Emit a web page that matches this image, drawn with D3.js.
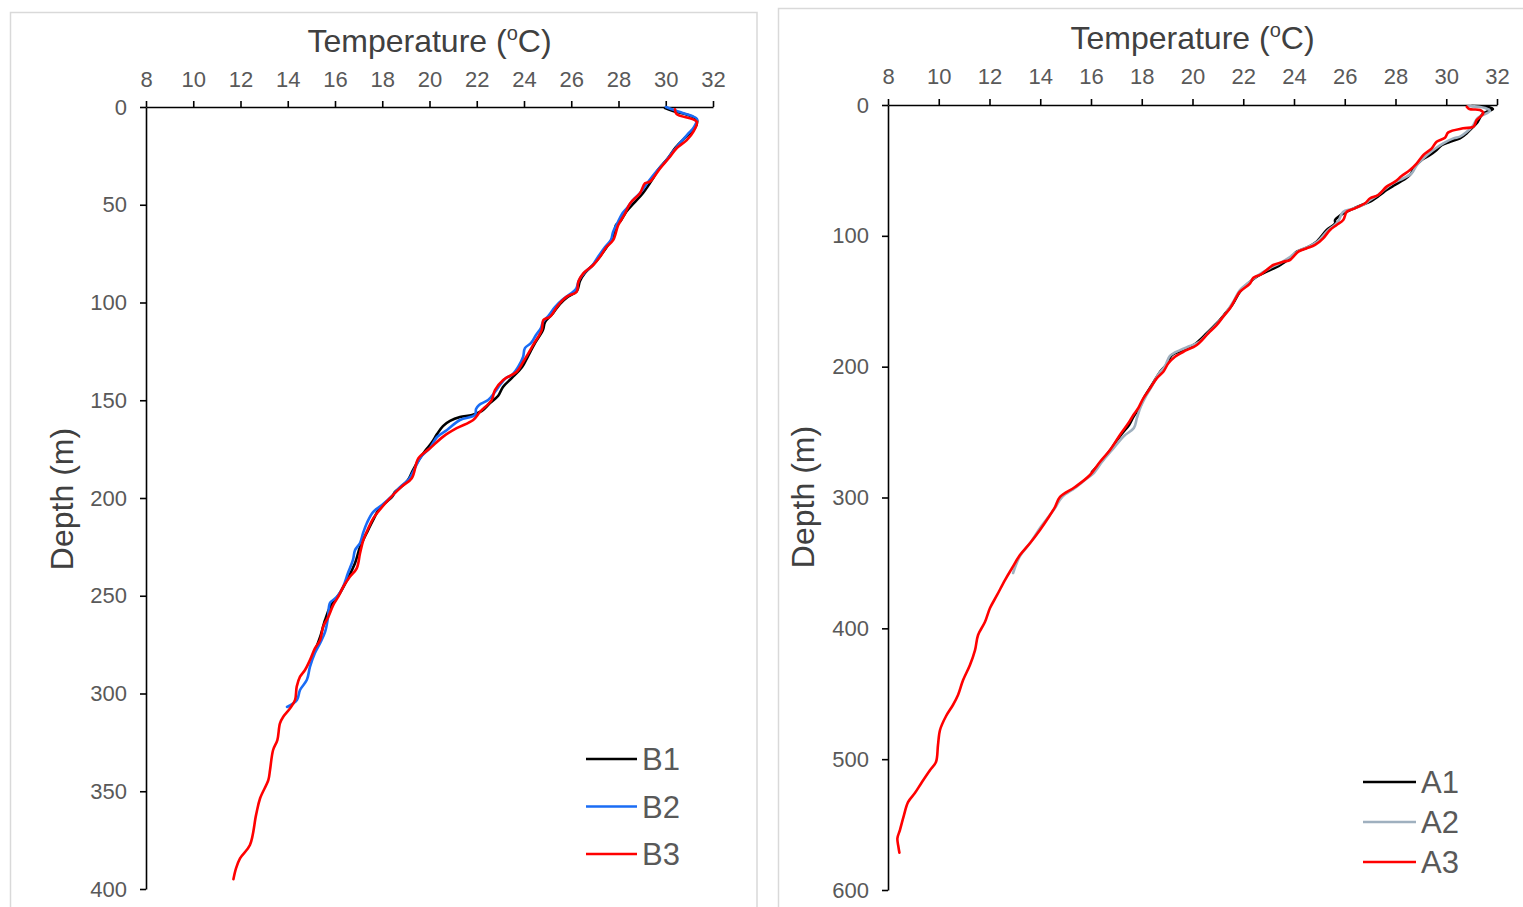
<!DOCTYPE html>
<html><head><meta charset="utf-8">
<script src="https://cdn.jsdelivr.net/npm/d3@7/dist/d3.min.js"></script>
<style>
body{margin:0;background:#fff;}
svg{display:block;font-family:"Liberation Sans",Arial,sans-serif;}
</style>
</head><body>
<svg id="c" width="1523" height="907"></svg>
<script>
// ---------- data ----------
const tempTicks = [8,10,12,14,16,18,20,22,24,26,28,30,32];
const depthTicksB = [0,50,100,150,200,250,300,350,400];
const depthTicksA = [0,100,200,300,400,500,600];
const seriesNamesB = ["B1","B2","B3"];
const seriesNamesA = ["A1","A2","A3"];

// [temperature °C, depth m]
const B1 = [[29.97,0.5],[30.31,2.0],[30.94,4.1],[31.32,6.6],[31.24,10.7],[30.86,15.3],[30.43,20.5],[30.10,26.1],[29.67,32.2],[29.42,37.3],[29.04,44.0],[28.66,49.1],[28.32,53.7],[28.06,58.8],[27.89,60.4],[27.81,65.5],[27.56,70.6],[27.26,75.7],[26.96,80.3],[26.58,84.9],[26.37,89.0],[26.24,94.1],[25.86,97.1],[25.52,100.8],[25.23,105.4],[24.89,110.0],[24.80,114.1],[24.47,120.7],[24.13,128.4],[23.92,133.0],[23.49,138.6],[23.11,143.2],[22.90,147.8],[22.56,151.4],[22.22,155.4],[21.80,157.5],[21.29,158.6],[20.87,160.6],[20.57,163.2],[20.32,167.3],[20.11,171.4],[19.85,175.4],[19.60,179.5],[19.30,185.7],[19.09,190.8],[18.79,194.4],[18.54,196.9],[18.41,199.5],[17.90,205.1],[17.61,211.3],[17.40,216.4],[17.06,225.1],[16.85,233.2],[16.51,241.9],[16.21,248.6],[15.79,255.8],[15.58,262.4],[15.37,271.1],[15.20,276.7]];
const B2 = [[30.01,0.0],[30.60,2.6],[31.11,4.6],[31.32,6.1],[31.20,10.2],[30.94,13.8],[30.60,18.4],[30.26,23.5],[29.93,28.6],[29.59,33.2],[29.25,38.4],[28.91,44.0],[28.61,47.6],[28.36,51.7],[28.15,54.7],[27.98,58.8],[27.77,63.9],[27.68,68.0],[27.43,71.6],[27.13,76.7],[26.88,81.3],[26.58,84.4],[26.33,88.5],[26.20,93.1],[25.95,95.7],[25.61,98.7],[25.31,102.3],[25.06,106.4],[24.80,110.0],[24.72,113.0],[24.51,116.6],[24.30,120.7],[24.04,123.3],[23.96,127.9],[23.75,133.0],[23.49,137.1],[23.24,138.6],[22.98,142.2],[22.77,145.8],[22.48,149.9],[22.10,152.4],[21.97,154.5],[21.93,157.5],[21.29,160.1],[20.74,165.2],[20.32,168.8],[20.02,174.4],[19.64,179.0],[19.34,185.7],[19.13,190.3],[18.75,194.4],[18.37,199.5],[17.99,203.6],[17.61,207.2],[17.35,212.8],[17.19,217.9],[17.06,223.0],[16.85,226.6],[16.76,231.7],[16.55,238.4],[16.34,245.5],[16.08,250.6],[15.79,253.7],[15.70,261.4],[15.58,268.5],[15.37,274.2],[15.15,279.3],[14.94,286.4],[14.81,293.0],[14.52,298.2],[14.39,303.3],[13.97,306.9]];
const B3 = [[30.39,1.2],[30.46,3.6],[31.31,7.5],[31.17,12.6],[30.89,16.9],[30.46,21.1],[30.18,25.4],[29.76,31.4],[29.33,38.2],[29.12,39.0],[28.91,44.1],[28.49,49.3],[28.28,54.4],[27.99,60.4],[27.78,68.0],[27.50,71.5],[27.22,76.6],[26.93,80.8],[26.51,85.1],[26.30,89.4],[26.23,94.5],[25.81,97.0],[25.45,101.3],[25.10,107.3],[24.82,109.0],[24.75,114.1],[24.39,121.7],[23.97,130.3],[23.69,135.4],[23.12,139.6],[22.77,144.8],[22.63,149.9],[22.14,155.9],[21.85,160.1],[21.15,164.3],[20.58,168.6],[20.02,174.6],[19.53,179.7],[19.25,189.9],[18.82,194.2],[18.19,201.9],[17.62,210.4],[17.41,215.5],[17.20,221.5],[17.06,228.3],[16.92,236.0],[16.63,240.3],[16.35,245.4],[16.14,250.5],[15.93,254.7],[15.72,260.7],[15.50,265.8],[15.37,272.6],[15.15,276.9],[14.94,282.9],[14.73,288.0],[14.52,291.4],[14.38,296.5],[14.31,303.3],[14.10,307.6],[13.81,311.9],[13.67,315.3],[13.56,323.8],[13.38,328.9],[13.25,339.1],[13.18,344.2],[12.83,353.6],[12.66,362.1],[12.40,377.5],[11.98,384.3],[11.81,389.4],[11.70,395.0]];

const A1 = [[31.01,0.8],[31.65,1.5],[31.84,3.1],[31.57,5.4],[31.40,7.6],[31.20,14.0],[31.00,17.8],[30.81,21.6],[30.54,25.5],[30.15,28.1],[29.82,30.6],[29.62,34.4],[29.36,38.2],[29.03,42.0],[28.77,47.2],[28.57,53.5],[28.31,57.3],[27.98,61.1],[27.65,65.0],[27.39,68.8],[27.00,73.9],[26.67,76.4],[26.21,80.3],[25.94,82.8],[25.62,87.9],[25.62,90.4],[25.29,95.5],[24.89,104.5],[24.50,109.1],[24.11,112.1],[23.84,117.2],[23.45,122.3],[22.92,127.4],[22.53,131.2],[22.20,136.3],[21.87,142.7],[21.56,152.9],[21.24,160.5],[20.97,166.6],[20.57,174.3],[20.10,182.7],[19.63,187.3],[19.19,191.1],[18.96,198.7],[18.72,204.1],[18.40,214.0],[18.13,222.4],[17.93,230.8],[17.69,237.7],[17.50,244.6],[17.18,252.2],[16.79,262.9],[16.39,272.9],[16.04,280.5]];
const A2 = [[30.86,0.8],[31.53,2.3],[31.72,4.6],[31.24,9.9],[31.04,16.1],[30.81,20.4],[30.54,24.2],[30.28,25.5],[29.88,29.3],[29.49,34.4],[29.10,40.7],[28.84,45.9],[28.64,52.2],[28.31,56.0],[27.91,59.8],[27.59,64.2],[27.31,68.8],[27.00,72.6],[26.72,76.4],[26.29,79.5],[25.93,81.8],[25.73,89.2],[25.29,96.8],[24.95,104.0],[24.55,108.5],[24.16,111.6],[23.84,116.2],[23.45,120.8],[22.98,125.4],[22.54,130.7],[22.19,136.1],[21.87,141.4],[21.60,150.6],[21.32,159.0],[21.00,166.6],[20.65,173.5],[20.26,181.2],[19.90,184.2],[19.51,187.3],[19.11,191.8],[18.92,199.5],[18.64,206.4],[18.40,214.8],[18.17,222.4],[17.97,230.1],[17.81,239.2],[17.69,246.9],[17.30,253.0],[16.83,263.7],[16.43,272.9],[16.08,282.0],[15.76,286.6],[15.37,292.7],[14.86,299.6],[14.58,308.1],[14.23,317.2],[13.99,323.3],[13.60,334.8],[13.20,344.8],[12.93,357.7]];
const A3 = [[30.81,1.3],[30.91,3.1],[31.33,3.8],[31.46,6.3],[31.20,11.5],[31.07,16.6],[30.67,17.8],[30.08,20.9],[29.95,25.0],[29.62,28.1],[29.43,33.1],[29.10,38.2],[28.84,44.6],[28.57,49.7],[28.24,54.3],[27.98,58.6],[27.65,62.4],[27.32,68.8],[27.00,71.3],[26.80,75.1],[26.40,79.0],[26.08,81.6],[25.94,87.9],[25.68,91.7],[25.42,95.5],[25.15,101.9],[24.83,107.0],[24.50,109.5],[24.17,112.1],[23.97,116.0],[23.84,118.5],[23.58,119.8],[23.18,122.3],[22.92,126.1],[22.66,129.9],[22.40,132.0],[22.27,136.3],[21.87,142.7],[21.74,146.5],[21.48,155.4],[21.21,161.8],[20.95,168.2],[20.62,174.5],[20.17,183.4],[19.64,188.6],[19.31,192.4],[19.05,197.4],[18.85,203.9],[18.59,208.9],[18.33,216.5],[18.06,224.2],[17.86,231.8],[17.67,236.9],[17.47,243.3],[17.14,252.2],[16.75,263.7],[16.35,272.9],[15.96,282.8],[15.37,292.0],[14.78,299.6],[14.58,307.3],[14.31,315.7],[13.99,324.8],[13.60,334.8],[13.20,344.0],[12.89,353.9],[12.61,363.1],[12.30,374.5],[12.02,384.5],[11.82,395.2],[11.55,405.1],[11.43,416.6],[11.23,428.0],[10.96,439.5],[10.76,451.0],[10.56,458.6],[10.29,467.0],[10.05,477.7],[9.97,489.2],[9.89,502.2],[9.66,508.3],[9.34,517.5],[9.06,525.9],[8.79,532.8],[8.63,542.7],[8.47,554.2],[8.37,560.5],[8.41,566.9],[8.45,571.5]];

// ---------- drawing ----------
const svg = d3.select("#c");
svg.append("rect").attr("width",1523).attr("height",907).attr("fill","#fff");

function panel(cfg){
  const g = svg.append("g");
  g.append("rect").attr("x",cfg.frame[0]).attr("y",cfg.frame[1]).attr("width",cfg.frame[2]).attr("height",cfg.frame[3])
    .attr("fill","#fff").attr("stroke","#d9d9d9").attr("stroke-width",1.5);
  const x = d3.scaleLinear().domain([8,32]).range(cfg.xr);
  const y = d3.scaleLinear().domain([0,cfg.dmax]).range(cfg.yr);

  const xa = g.append("g").attr("transform",`translate(0,${cfg.yr[0]})`)
    .call(d3.axisTop(x).tickValues(tempTicks).tickSize(6).tickSizeOuter(0).tickPadding(cfg.xpad));
  const ya = g.append("g").attr("transform",`translate(${cfg.xr[0]},0)`)
    .call(d3.axisLeft(y).tickValues(cfg.dticks).tickSize(6).tickSizeOuter(0).tickPadding(13));
  [xa,ya].forEach(a=>{
    a.select(".domain").attr("stroke","#000").attr("stroke-width",1.6);
    a.selectAll(".tick line").attr("stroke","#000").attr("stroke-width",1.6);
    a.selectAll(".tick text").attr("fill","#595959").attr("font-size",22).attr("font-family","Liberation Sans, Arial, sans-serif");
  });

  // title
  const t = g.append("text").attr("x",(cfg.xr[0]+cfg.xr[1])/2).attr("y",cfg.titleY)
    .attr("text-anchor","middle").attr("font-size",32).attr("fill","#404040");
  t.append("tspan").text("Temperature (");
  t.append("tspan").text("o").attr("font-size",20).attr("dy",-12);
  t.append("tspan").text("C)").attr("dy",12);

  g.append("text").attr("transform",`translate(${cfg.ytX},${cfg.ytY}) rotate(-90)`)
    .attr("text-anchor","middle").attr("font-size",32).attr("fill","#404040").text("Depth (m)");

  const line = d3.line().x(d=>x(d[0])).y(d=>y(d[1])).curve(d3.curveCatmullRom.alpha(0.5));
  cfg.series.forEach(s=>{
    g.append("path").datum(s.data).attr("d",line).attr("fill","none")
      .attr("stroke",s.color).attr("stroke-width",2.6).attr("stroke-linejoin","round").attr("stroke-linecap","round");
  });

  // legend
  cfg.series.forEach((s,i)=>{
    const ly = cfg.leg[1] + i*cfg.leg[2];
    g.append("line").attr("x1",cfg.leg[0]).attr("x2",cfg.leg[0]+cfg.leg[3]).attr("y1",ly).attr("y2",ly)
      .attr("stroke",s.color).attr("stroke-width",2.6);
    g.append("text").attr("x",cfg.leg[0]+cfg.leg[3]+5).attr("y",ly+11).attr("font-size",31)
      .attr("fill","#595959").text(s.name);
  });
}

panel({
  frame:[10.5,12.5,746.5,910],
  xr:[146,713], yr:[107,889], dmax:400, dticks:depthTicksB, xpad:14,
  titleY:52, ytX:73, ytY:499,
  series:[{name:seriesNamesB[0],data:B1,color:"#000000"},{name:seriesNamesB[1],data:B2,color:"#1a6cf5"},{name:seriesNamesB[2],data:B3,color:"#ff0000"}],
  leg:[586,759,47.5,51]
});
panel({
  frame:[778.5,8.5,760,910],
  xr:[888,1497], yr:[105,890], dmax:600, dticks:depthTicksA, xpad:15,
  titleY:49, ytX:814, ytY:497,
  series:[{name:seriesNamesA[0],data:A1,color:"#000000"},{name:seriesNamesA[1],data:A2,color:"#9fb0bf"},{name:seriesNamesA[2],data:A3,color:"#ff0000"}],
  leg:[1363,782,40,53]
});
</script>
</body></html>
